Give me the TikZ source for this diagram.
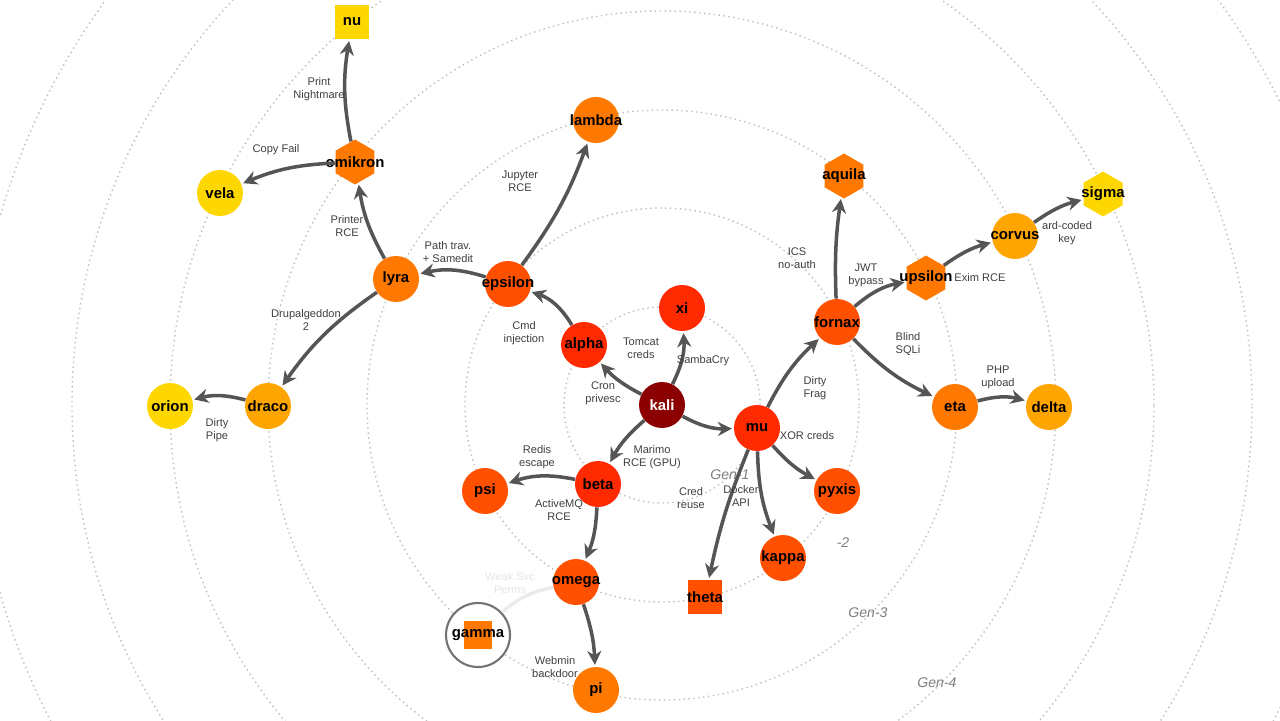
\documentclass[tikz,border=0pt]{standalone}
\usepackage{fontspec}
\setmainfont{Liberation Sans}
\usetikzlibrary{shapes.geometric,arrows.meta}
\definecolor{g0}{HTML}{8B0000}
\definecolor{g1}{HTML}{FF2A00}
\definecolor{g2}{HTML}{FF5000}
\definecolor{g3}{HTML}{FF7800}
\definecolor{g4}{HTML}{FFA500}
\definecolor{g5}{HTML}{FFD700}
\definecolor{edge}{HTML}{555555}
\begin{document}
\begin{tikzpicture}[x=0.02cm,y=-0.02cm,
 nf/.style={font=\fontsize{8.5}{8.5}\selectfont\bfseries},
 n/.style={circle,minimum size=0.92cm,inner sep=0pt,label={[nf]center:#1}},
 sq/.style={rectangle,minimum size=0.68cm,inner sep=0pt,label={[nf]center:#1}},
 hx/.style={regular polygon,regular polygon sides=6,shape border rotate=30,minimum size=0.9cm,inner sep=0pt,label={[nf]center:#1}},
 e/.style={draw=edge,line width=2pt,-{Stealth[length=8pt,width=8pt]},shorten >=1pt},
 lb/.style={font=\fontsize{6.3}{7.5}\selectfont,text=black!75,align=center},
 gen/.style={font=\fontsize{8}{8}\selectfont\itshape,text=black!50},
 ring/.style={draw=black!25,dotted,line width=0.8pt}]
\useasboundingbox (0,0) rectangle (1280,720);
\fill[white] (0,0) rectangle (1280,720);
\foreach \r in {98,197,295,394,492,590,688}{\draw[ring] (662,405) circle[radius=\r*0.02cm];}
\node[gen] (gen1) at (730,475) {Gen-1};
\node[gen] (gen3) at (868,613) {Gen-3};
\node[gen] (gen4) at (937,683) {Gen-4};
\node[gen] (gen2) at (843,543) {-2};
% nodes
\node[circle,minimum size=0.92cm,inner sep=0pt,fill=g0,text=white,nf] (kali) at (662,405) {kali};
\node[n=xi,fill=g1] (xi) at (682,308) {};
\node[n=alpha,fill=g1] (alpha) at (584,345) {};
\node[n=mu,fill=g1] (mu) at (757,428) {};
\node[n=beta,fill=g1] (beta) at (598,484) {};
\node[n=epsilon,fill=g2] (epsilon) at (508,284) {};
\node[n=lambda,fill=g3] (lambda) at (596,120) {};
\node[n=fornax,fill=g2] (fornax) at (837,322) {};
\node[n=psi,fill=g2] (psi) at (485,491) {};
\node[n=omega,fill=g2] (omega) at (576,582) {};
\node[n=pyxis,fill=g2] (pyxis) at (837,491) {};
\node[n=kappa,fill=g2] (kappa) at (783,558) {};
\node[sq=theta,fill=g2] (theta) at (705,597) {};
\node[n=lyra,fill=g3] (lyra) at (396,279) {};
\node[hx=omikron,fill=g3] (omikron) at (355,162) {};
\node[hx=aquila,fill=g3] (aquila) at (844,176) {};
\node[hx=upsilon,fill=g3] (upsilon) at (926,278) {};
\node[n=eta,fill=g3] (eta) at (955,407) {};
\node[n=pi,fill=g3] (pi) at (596,690) {};
\node[circle,draw=black!55,line width=1.2pt,fill=white,minimum size=1.28cm] (gring) at (478,635) {};
\node[sq=gamma,fill=g3,minimum size=0.56cm] (gamma) at (478,635) {};
\node[n=draco,fill=g4] (draco) at (268,406) {};
\node[n=corvus,fill=g4] (corvus) at (1015,236) {};
\node[n=delta,fill=g4] (delta) at (1049,407) {};
\node[n=orion,fill=g5] (orion) at (170,406) {};
\node[n=vela,fill=g5] (vela) at (220,193) {};
\node[sq=nu,fill=g5] (nu) at (352,22) {};
\node[hx=sigma,fill=g5] (sigma) at (1103,194) {};
% edges
\draw[e] (kali) to[bend right=15] (xi);
\draw[e] (kali) to[bend left=10] (alpha);
\draw[e] (kali) to[bend right=15] (mu);
\draw[e] (kali) to[bend right=10] (beta);
\draw[e] (alpha) to[bend right=20] (epsilon);
\draw[e] (epsilon) to[bend right=15] (lyra);
\draw[e] (epsilon) to[bend right=8] (lambda);
\draw[e] (lyra) to[bend left=10] (omikron);
\draw[e] (omikron) to[bend left=10] (nu);
\draw[e] (omikron) to[bend right=10] (vela);
\draw[e] (lyra) to[bend right=10] (draco);
\draw[e] (draco) to[bend right=15] (orion);
\draw[e] (mu) to[bend left=10] (fornax);
\draw[e] (mu) to[bend right=10] (pyxis);
\draw[e] (mu) to[bend right=10] (kappa);
\draw[e] (mu) to[bend right=5] (theta);
\draw[e] (beta) to[bend right=15] (psi);
\draw[e] (beta) to[bend left=10] (omega);
\draw[e] (omega) to[bend left=8] (pi);
\draw[draw=black!8,line width=2pt] (omega) to[bend right=15] (gring);
\draw[e] (fornax) to[bend left=5] (aquila);
\draw[e] (fornax) to[bend left=15] (upsilon);
\draw[e] (fornax) to[bend right=10] (eta);
\draw[e] (eta) to[bend left=15] (delta);
\draw[e] (upsilon) to[bend left=10] (corvus);
\draw[e] (corvus) to[bend left=10] (sigma);
% labels
\node[lb] (l1) at (641,348) {Tomcat\\creds};
\node[lb] (l2) at (603,393) {Cron\\privesc};
\node[lb] (l3) at (703,361) {SambaCry};
\node[lb] (l4) at (652,457) {Marimo\\RCE (GPU)};
\node[lb] (l5) at (524,333) {Cmd\\injection};
\node[lb] (l6) at (448,252) {Path trav.\\+ Samedit};
\node[lb] (l7) at (520,181) {Jupyter\\RCE};
\node[lb] (l8) at (347,226) {Printer\\RCE};
\node[lb] (l9) at (319,89) {Print\\Nightmare};
\node[lb] (l10) at (276,150) {Copy Fail};
\node[lb] (l11) at (306,320) {Drupalgeddon\\2};
\node[lb] (l12) at (217,430) {Dirty\\Pipe};
\node[lb] (l13) at (815,388) {Dirty\\Frag};
\node[lb] (l14) at (807,436) {XOR creds};
\node[lb] (l15) at (741,496) {Docker\\API};
\node[lb] (l16) at (691,498) {Cred\\reuse};
\node[lb] (l17) at (537,457) {Redis\\escape};
\node[lb] (l18) at (559,510) {ActiveMQ\\RCE};
\node[lb] (l19) at (555,667) {Webmin\\backdoor};
\node[lb,text=black!10] (l20) at (510,583) {Weak Svc\\Perms};
\node[lb] (l21) at (797,258) {ICS\\no-auth};
\node[lb] (l22) at (866,275) {JWT\\bypass};
\node[lb] (l23) at (908,344) {Blind\\SQLi};
\node[lb] (l24) at (998,377) {PHP\\upload};
\node[lb] (l25) at (980,278) {Exim RCE};
\node[lb] (l26) at (1067,233) {ard-coded\\key};
\end{tikzpicture}
\end{document}
